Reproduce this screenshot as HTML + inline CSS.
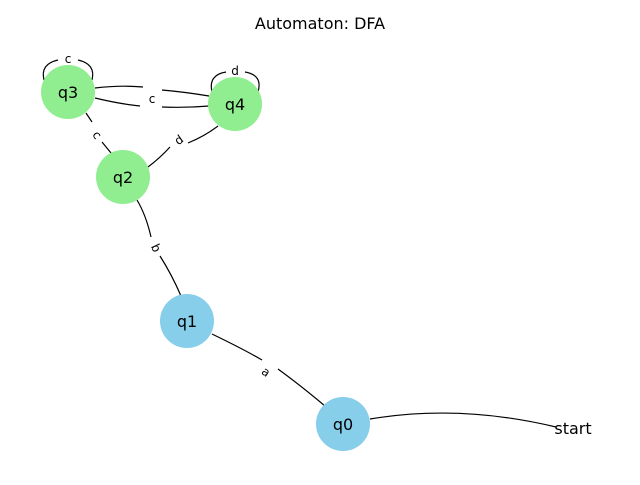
<!DOCTYPE html>
<html><head><style>body{margin:0;background:#fff}</style></head><body>
<svg width="640" height="480" viewBox="0 0 640 480" xmlns="http://www.w3.org/2000/svg" font-family="DejaVu Sans, Liberation Sans, sans-serif">
<rect width="640" height="480" fill="#fff"/>
<text x="320" y="29" text-anchor="middle" font-size="16">Automaton: DFA</text>
<g fill="none" stroke="#000" stroke-width="1.2">
<path d="M370,419 Q460,404 556,427"/>
<path d="M212,334 Q245,350 262,360 M278,369 Q300,385 325,406"/>
<path d="M137,200 Q146,215 151,237 M160,256 Q172,275 181,296"/>
<path d="M86,113 L92,122 M102,142 L111,153"/>
<path d="M218,126 Q205,136 188,143 M170,147 Q160,158 148,167"/>
<path d="M95,88 Q120,85 143,87 M162,90 Q185,92 209,96"/>
<path d="M95,98 Q120,104 140,106 M162,107 Q185,108 209,106"/>
<path d="M44,80 Q40,64 58,60 M78,60 Q96,64 92,80"/>
<path d="M212,92 Q208,75 226,72 M245,72 Q263,75 258,92"/>
</g>
<g font-size="12" text-anchor="middle">
<text x="68" y="63">c</text>
<text x="235" y="75">d</text>
<text x="152" y="103">c</text>
<text x="97" y="139" transform="rotate(55 97 135)">c</text>
<text x="179" y="144" transform="rotate(-35 179 140)">d</text>
<text x="156" y="252" transform="rotate(65 156 248)">b</text>
<text x="266" y="376" transform="rotate(35 266 372)">a</text>
</g>
<g>
<circle cx="68" cy="92" r="27" fill="#90ee90"/>
<circle cx="235" cy="104" r="27" fill="#90ee90"/>
<circle cx="123" cy="177" r="27" fill="#90ee90"/>
<circle cx="187" cy="321" r="27" fill="#87ceeb"/>
<circle cx="343" cy="424" r="27" fill="#87ceeb"/>
</g>
<g font-size="16" text-anchor="middle">
<text x="68" y="98">q3</text>
<text x="235" y="110">q4</text>
<text x="123" y="183">q2</text>
<text x="187" y="327">q1</text>
<text x="343" y="430">q0</text>
<text x="573" y="434">start</text>
</g>
</svg>
</body></html>
